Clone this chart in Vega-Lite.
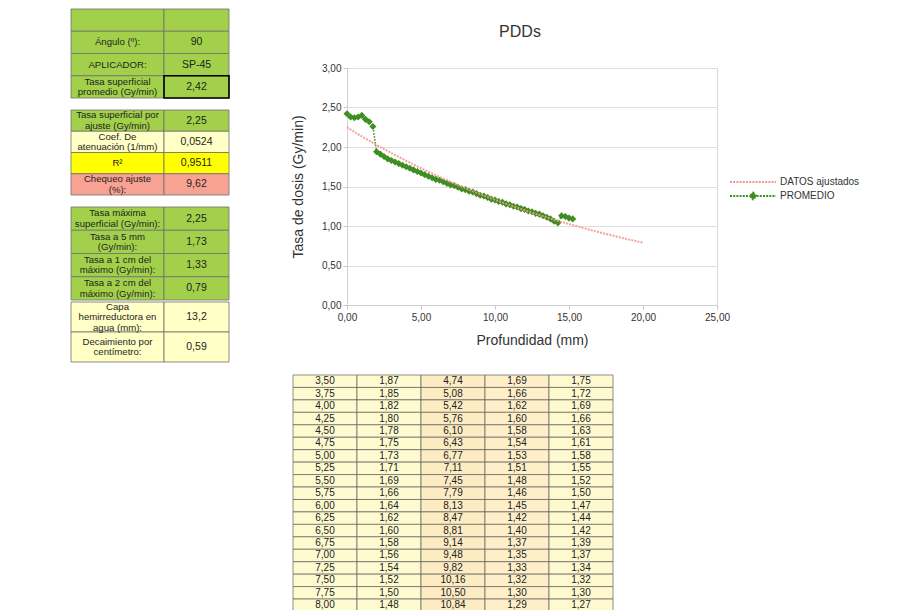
{
  "$schema": "https://vega.github.io/schema/vega-lite/v6.json",
  "background": "white",
  "padding": {"left": 70, "top": 8, "right": 0, "bottom": 0},
  "config": {
    "font": "Liberation Sans",
    "locale": {"number": {"decimal": ",", "thousands": ".", "grouping": [3], "currency": ["", " €"]}},
    "view": {"stroke": null}
  },
  "datasets": {
    "b1": [
      {"n": 1, "etiqueta": "", "valor": "", "estado": "entrada"},
      {"n": 2, "etiqueta": "Ángulo (º):", "valor": "90", "estado": "entrada"},
      {"n": 3, "etiqueta": "APLICADOR:", "valor": "SP-45", "estado": "entrada"},
      {"n": 4, "etiqueta": ["Tasa superficial", "promedio (Gy/min)"], "valor": "2,42", "estado": "entrada"}
    ],
    "b2": [
      {"n": 1, "etiqueta": ["Tasa superficial por", "ajuste (Gy/min)"], "valor": "2,25", "estado": "entrada"},
      {"n": 2, "etiqueta": ["Coef. De", "atenuación (1/mm)"], "valor": "0,0524", "estado": "derivado"},
      {"n": 3, "etiqueta": "R²", "valor": "0,9511", "estado": "r2"},
      {"n": 4, "etiqueta": ["Chequeo ajuste", "(%):"], "valor": "9,62", "estado": "chequeo"}
    ],
    "b3": [
      {"n": 1, "etiqueta": ["Tasa máxima", "superficial (Gy/min):"], "valor": "2,25", "estado": "entrada"},
      {"n": 2, "etiqueta": ["Tasa a 5 mm", "(Gy/min):"], "valor": "1,73", "estado": "entrada"},
      {"n": 3, "etiqueta": ["Tasa a 1 cm del", "máximo (Gy/min):"], "valor": "1,33", "estado": "entrada"},
      {"n": 4, "etiqueta": ["Tasa a 2 cm del", "máximo (Gy/min):"], "valor": "0,79", "estado": "entrada"},
      {"n": 5, "etiqueta": ["Capa", "hemirreductora en", "agua (mm):"], "valor": "13,2", "estado": "derivado"},
      {"n": 6, "etiqueta": ["Decaimiento por", "centímetro:"], "valor": "0,59", "estado": "derivado"}
    ],
    "tabla": [
      {"p": 3.50, "b": 1.87, "c": 4.74, "d": 1.69, "e": 1.75},
      {"p": 3.75, "b": 1.85, "c": 5.08, "d": 1.66, "e": 1.72},
      {"p": 4.00, "b": 1.82, "c": 5.42, "d": 1.62, "e": 1.69},
      {"p": 4.25, "b": 1.80, "c": 5.76, "d": 1.60, "e": 1.66},
      {"p": 4.50, "b": 1.78, "c": 6.10, "d": 1.58, "e": 1.63},
      {"p": 4.75, "b": 1.75, "c": 6.43, "d": 1.54, "e": 1.61},
      {"p": 5.00, "b": 1.73, "c": 6.77, "d": 1.53, "e": 1.58},
      {"p": 5.25, "b": 1.71, "c": 7.11, "d": 1.51, "e": 1.55},
      {"p": 5.50, "b": 1.69, "c": 7.45, "d": 1.48, "e": 1.52},
      {"p": 5.75, "b": 1.66, "c": 7.79, "d": 1.46, "e": 1.50},
      {"p": 6.00, "b": 1.64, "c": 8.13, "d": 1.45, "e": 1.47},
      {"p": 6.25, "b": 1.62, "c": 8.47, "d": 1.42, "e": 1.44},
      {"p": 6.50, "b": 1.60, "c": 8.81, "d": 1.40, "e": 1.42},
      {"p": 6.75, "b": 1.58, "c": 9.14, "d": 1.37, "e": 1.39},
      {"p": 7.00, "b": 1.56, "c": 9.48, "d": 1.35, "e": 1.37},
      {"p": 7.25, "b": 1.54, "c": 9.82, "d": 1.33, "e": 1.34},
      {"p": 7.50, "b": 1.52, "c": 10.16, "d": 1.32, "e": 1.32},
      {"p": 7.75, "b": 1.50, "c": 10.50, "d": 1.30, "e": 1.30},
      {"p": 8.00, "b": 1.48, "c": 10.84, "d": 1.29, "e": 1.27}
    ],
    "ajuste": [
      {"prof": 0, "tasa": 2.25}, {"prof": 0.25, "tasa": 2.221}, {"prof": 0.5, "tasa": 2.192}, {"prof": 0.75, "tasa": 2.163},
      {"prof": 1, "tasa": 2.135}, {"prof": 1.25, "tasa": 2.107}, {"prof": 1.5, "tasa": 2.080}, {"prof": 1.75, "tasa": 2.053},
      {"prof": 2, "tasa": 2.026}, {"prof": 2.25, "tasa": 2.000}, {"prof": 2.5, "tasa": 1.974}, {"prof": 2.75, "tasa": 1.948},
      {"prof": 3, "tasa": 1.923}, {"prof": 3.25, "tasa": 1.898}, {"prof": 3.5, "tasa": 1.873}, {"prof": 3.75, "tasa": 1.849},
      {"prof": 4, "tasa": 1.825}, {"prof": 4.25, "tasa": 1.801}, {"prof": 4.5, "tasa": 1.778}, {"prof": 4.75, "tasa": 1.754},
      {"prof": 5, "tasa": 1.731}, {"prof": 5.25, "tasa": 1.709}, {"prof": 5.5, "tasa": 1.687}, {"prof": 5.75, "tasa": 1.665},
      {"prof": 6, "tasa": 1.643}, {"prof": 6.25, "tasa": 1.622}, {"prof": 6.5, "tasa": 1.601}, {"prof": 6.75, "tasa": 1.580},
      {"prof": 7, "tasa": 1.559}, {"prof": 7.25, "tasa": 1.539}, {"prof": 7.5, "tasa": 1.519}, {"prof": 7.75, "tasa": 1.499},
      {"prof": 8, "tasa": 1.480}, {"prof": 8.25, "tasa": 1.460}, {"prof": 8.5, "tasa": 1.441}, {"prof": 8.75, "tasa": 1.423},
      {"prof": 9, "tasa": 1.404}, {"prof": 9.25, "tasa": 1.386}, {"prof": 9.5, "tasa": 1.368}, {"prof": 9.75, "tasa": 1.350},
      {"prof": 10, "tasa": 1.332}, {"prof": 10.25, "tasa": 1.315}, {"prof": 10.5, "tasa": 1.298}, {"prof": 10.75, "tasa": 1.281},
      {"prof": 11, "tasa": 1.264}, {"prof": 11.25, "tasa": 1.248}, {"prof": 11.5, "tasa": 1.232}, {"prof": 11.75, "tasa": 1.216},
      {"prof": 12, "tasa": 1.200}, {"prof": 12.25, "tasa": 1.184}, {"prof": 12.5, "tasa": 1.169}, {"prof": 12.75, "tasa": 1.154},
      {"prof": 13, "tasa": 1.139}, {"prof": 13.25, "tasa": 1.124}, {"prof": 13.5, "tasa": 1.109}, {"prof": 13.75, "tasa": 1.095},
      {"prof": 14, "tasa": 1.080}, {"prof": 14.25, "tasa": 1.066}, {"prof": 14.5, "tasa": 1.053}, {"prof": 14.75, "tasa": 1.039},
      {"prof": 15, "tasa": 1.025}, {"prof": 15.25, "tasa": 1.012}, {"prof": 15.5, "tasa": 0.999}, {"prof": 15.75, "tasa": 0.986},
      {"prof": 16, "tasa": 0.973}, {"prof": 16.25, "tasa": 0.960}, {"prof": 16.5, "tasa": 0.948}, {"prof": 16.75, "tasa": 0.935},
      {"prof": 17, "tasa": 0.923}, {"prof": 17.25, "tasa": 0.911}, {"prof": 17.5, "tasa": 0.899}, {"prof": 17.75, "tasa": 0.888},
      {"prof": 18, "tasa": 0.876}, {"prof": 18.25, "tasa": 0.865}, {"prof": 18.5, "tasa": 0.853}, {"prof": 18.75, "tasa": 0.842},
      {"prof": 19, "tasa": 0.831}, {"prof": 19.25, "tasa": 0.821}, {"prof": 19.5, "tasa": 0.810}, {"prof": 19.75, "tasa": 0.799},
      {"prof": 20, "tasa": 0.789}
    ],
    "promedio": [
      {"prof": 0, "tasa": 2.42}, {"prof": 0.25, "tasa": 2.38}, {"prof": 0.5, "tasa": 2.37}, {"prof": 0.75, "tasa": 2.38},
      {"prof": 1, "tasa": 2.40}, {"prof": 1.25, "tasa": 2.35}, {"prof": 1.5, "tasa": 2.32}, {"prof": 1.75, "tasa": 2.26},
      {"prof": 2, "tasa": 1.94}, {"prof": 2.25, "tasa": 1.91}, {"prof": 2.5, "tasa": 1.88}, {"prof": 2.75, "tasa": 1.85},
      {"prof": 3, "tasa": 1.83}, {"prof": 3.25, "tasa": 1.81}, {"prof": 3.5, "tasa": 1.79}, {"prof": 3.75, "tasa": 1.77},
      {"prof": 4, "tasa": 1.75}, {"prof": 4.25, "tasa": 1.73}, {"prof": 4.5, "tasa": 1.71}, {"prof": 4.75, "tasa": 1.69},
      {"prof": 5, "tasa": 1.67}, {"prof": 5.25, "tasa": 1.65}, {"prof": 5.5, "tasa": 1.63}, {"prof": 5.75, "tasa": 1.61},
      {"prof": 6, "tasa": 1.59}, {"prof": 6.25, "tasa": 1.58}, {"prof": 6.5, "tasa": 1.56}, {"prof": 6.75, "tasa": 1.54},
      {"prof": 7, "tasa": 1.52}, {"prof": 7.25, "tasa": 1.51}, {"prof": 7.5, "tasa": 1.49}, {"prof": 7.75, "tasa": 1.47},
      {"prof": 8, "tasa": 1.46}, {"prof": 8.25, "tasa": 1.44}, {"prof": 8.5, "tasa": 1.43}, {"prof": 8.75, "tasa": 1.41},
      {"prof": 9, "tasa": 1.39}, {"prof": 9.25, "tasa": 1.38}, {"prof": 9.5, "tasa": 1.36}, {"prof": 9.75, "tasa": 1.34},
      {"prof": 10, "tasa": 1.33}, {"prof": 10.25, "tasa": 1.31}, {"prof": 10.5, "tasa": 1.30}, {"prof": 10.75, "tasa": 1.28},
      {"prof": 11, "tasa": 1.27}, {"prof": 11.25, "tasa": 1.25}, {"prof": 11.5, "tasa": 1.24}, {"prof": 11.75, "tasa": 1.22},
      {"prof": 12, "tasa": 1.21}, {"prof": 12.25, "tasa": 1.19}, {"prof": 12.5, "tasa": 1.18}, {"prof": 12.75, "tasa": 1.16},
      {"prof": 13, "tasa": 1.15}, {"prof": 13.25, "tasa": 1.13}, {"prof": 13.5, "tasa": 1.11}, {"prof": 13.75, "tasa": 1.09},
      {"prof": 14, "tasa": 1.06}, {"prof": 14.25, "tasa": 1.04}, {"prof": 14.5, "tasa": 1.13}, {"prof": 14.75, "tasa": 1.12},
      {"prof": 15, "tasa": 1.10}, {"prof": 15.25, "tasa": 1.09}
    ]
  },
  "spacing": 11,
  "resolve": {"scale": {"fill": "independent", "color": "independent"}},
  "vconcat": [
    {
      "spacing": 61,
      "resolve": {"scale": {"fill": "independent", "color": "independent"}},
      "hconcat": [
        {
          "spacing": 10,
          "vconcat": [
            {
              "spacing": 0,
              "bounds": "flush",
              "hconcat": [
                {
                  "width": 93, "height": 89, "data": {"name": "b1"},
                  "layer": [
                    {"mark": {"type": "rect", "stroke": "#707070", "strokeWidth": 0.8},
                     "encoding": {"y": {"field": "n", "type": "ordinal", "axis": null, "scale": {"paddingInner": 0, "paddingOuter": 0}},
                                  "fill": {"field": "estado", "type": "nominal", "legend": null, "scale": {"domain": ["entrada", "derivado", "r2", "chequeo"], "range": ["#a2d04b", "#ffffc6", "#ffff00", "#f8a293"]}}}},
                    {"transform": [{"filter": "!isArray(datum.etiqueta)"}],
                     "mark": {"type": "text", "fontSize": 9.6, "color": "#1e1e1e"},
                     "encoding": {"y": {"field": "n", "type": "ordinal", "axis": null}, "text": {"field": "etiqueta"}}},
                    {"transform": [{"filter": "isArray(datum.etiqueta) && length(datum.etiqueta) == 2"}],
                     "mark": {"type": "text", "fontSize": 9.6, "lineHeight": 10.5, "dy": -5.25, "color": "#1e1e1e"},
                     "encoding": {"y": {"field": "n", "type": "ordinal", "axis": null}, "text": {"field": "etiqueta"}}}
                  ]
                },
                {
                  "width": 65, "height": 89, "data": {"name": "b1"},
                  "layer": [
                    {"mark": {"type": "rect", "stroke": "#707070", "strokeWidth": 0.8},
                     "encoding": {"y": {"field": "n", "type": "ordinal", "axis": null, "scale": {"paddingInner": 0, "paddingOuter": 0}},
                                  "fill": {"field": "estado", "type": "nominal", "legend": null, "scale": {"domain": ["entrada", "derivado", "r2", "chequeo"], "range": ["#a2d04b", "#ffffc6", "#ffff00", "#f8a293"]}}}},
                    {"transform": [{"filter": "datum.n == 4"}],
                     "mark": {"type": "rect", "fill": "transparent", "stroke": "#000000", "strokeWidth": 1.6},
                     "encoding": {"y": {"field": "n", "type": "ordinal", "axis": null}}},
                    {"mark": {"type": "text", "fontSize": 10.5, "color": "#1e1e1e"},
                     "encoding": {"y": {"field": "n", "type": "ordinal", "axis": null}, "text": {"field": "valor"}}}
                  ]
                }
              ]
            },
            {
              "spacing": 0,
              "bounds": "flush",
              "hconcat": [
                {
                  "width": 93, "height": 85, "data": {"name": "b2"},
                  "layer": [
                    {"mark": {"type": "rect", "stroke": "#707070", "strokeWidth": 0.8},
                     "encoding": {"y": {"field": "n", "type": "ordinal", "axis": null, "scale": {"paddingInner": 0, "paddingOuter": 0}},
                                  "fill": {"field": "estado", "type": "nominal", "legend": null, "scale": {"domain": ["entrada", "derivado", "r2", "chequeo"], "range": ["#a2d04b", "#ffffc6", "#ffff00", "#f8a293"]}}}},
                    {"transform": [{"filter": "!isArray(datum.etiqueta)"}],
                     "mark": {"type": "text", "fontSize": 9.6, "color": "#1e1e1e"},
                     "encoding": {"y": {"field": "n", "type": "ordinal", "axis": null}, "text": {"field": "etiqueta"}}},
                    {"transform": [{"filter": "isArray(datum.etiqueta) && length(datum.etiqueta) == 2"}],
                     "mark": {"type": "text", "fontSize": 9.6, "lineHeight": 10.5, "dy": -5.25, "color": "#1e1e1e"},
                     "encoding": {"y": {"field": "n", "type": "ordinal", "axis": null}, "text": {"field": "etiqueta"}}}
                  ]
                },
                {
                  "width": 65, "height": 85, "data": {"name": "b2"},
                  "layer": [
                    {"mark": {"type": "rect", "stroke": "#707070", "strokeWidth": 0.8},
                     "encoding": {"y": {"field": "n", "type": "ordinal", "axis": null, "scale": {"paddingInner": 0, "paddingOuter": 0}},
                                  "fill": {"field": "estado", "type": "nominal", "legend": null, "scale": {"domain": ["entrada", "derivado", "r2", "chequeo"], "range": ["#a2d04b", "#ffffc6", "#ffff00", "#f8a293"]}}}},
                    {"mark": {"type": "text", "fontSize": 10.5, "color": "#1e1e1e"},
                     "encoding": {"y": {"field": "n", "type": "ordinal", "axis": null}, "text": {"field": "valor"}}}
                  ]
                }
              ]
            },
            {
              "spacing": 0,
              "vconcat": [
                {
                  "spacing": 0,
                  "bounds": "flush",
                  "hconcat": [
                    {
                      "width": 93, "height": 93, "data": {"name": "b3"},
                      "transform": [{"filter": "datum.n <= 4"}],
                      "layer": [
                        {"mark": {"type": "rect", "stroke": "#707070", "strokeWidth": 0.8},
                         "encoding": {"y": {"field": "n", "type": "ordinal", "axis": null, "scale": {"paddingInner": 0, "paddingOuter": 0}},
                                      "fill": {"field": "estado", "type": "nominal", "legend": null, "scale": {"domain": ["entrada", "derivado", "r2", "chequeo"], "range": ["#a2d04b", "#ffffc6", "#ffff00", "#f8a293"]}}}},
                        {"mark": {"type": "text", "fontSize": 9.6, "lineHeight": 10.5, "dy": -5.25, "color": "#1e1e1e"},
                         "encoding": {"y": {"field": "n", "type": "ordinal", "axis": null}, "text": {"field": "etiqueta"}}}
                      ]
                    },
                    {
                      "width": 65, "height": 93, "data": {"name": "b3"},
                      "transform": [{"filter": "datum.n <= 4"}],
                      "layer": [
                        {"mark": {"type": "rect", "stroke": "#707070", "strokeWidth": 0.8},
                         "encoding": {"y": {"field": "n", "type": "ordinal", "axis": null, "scale": {"paddingInner": 0, "paddingOuter": 0}},
                                      "fill": {"field": "estado", "type": "nominal", "legend": null, "scale": {"domain": ["entrada", "derivado", "r2", "chequeo"], "range": ["#a2d04b", "#ffffc6", "#ffff00", "#f8a293"]}}}},
                        {"mark": {"type": "text", "fontSize": 10.5, "color": "#1e1e1e"},
                         "encoding": {"y": {"field": "n", "type": "ordinal", "axis": null}, "text": {"field": "valor"}}}
                      ]
                    }
                  ]
                },
                {
                  "spacing": 0,
                  "bounds": "flush",
                  "hconcat": [
                    {
                      "width": 93, "height": 60, "data": {"name": "b3"},
                      "transform": [{"filter": "datum.n > 4"}],
                      "layer": [
                        {"mark": {"type": "rect", "stroke": "#707070", "strokeWidth": 0.8},
                         "encoding": {"y": {"field": "n", "type": "ordinal", "axis": null, "scale": {"paddingInner": 0, "paddingOuter": 0}},
                                      "fill": {"field": "estado", "type": "nominal", "legend": null, "scale": {"domain": ["entrada", "derivado", "r2", "chequeo"], "range": ["#a2d04b", "#ffffc6", "#ffff00", "#f8a293"]}}}},
                        {"transform": [{"filter": "length(datum.etiqueta) == 2"}],
                         "mark": {"type": "text", "fontSize": 9.6, "lineHeight": 10.5, "dy": -5.25, "color": "#1e1e1e"},
                         "encoding": {"y": {"field": "n", "type": "ordinal", "axis": null}, "text": {"field": "etiqueta"}}},
                        {"transform": [{"filter": "length(datum.etiqueta) == 3"}],
                         "mark": {"type": "text", "fontSize": 9.6, "lineHeight": 10.5, "dy": -10.5, "color": "#1e1e1e"},
                         "encoding": {"y": {"field": "n", "type": "ordinal", "axis": null}, "text": {"field": "etiqueta"}}}
                      ]
                    },
                    {
                      "width": 65, "height": 60, "data": {"name": "b3"},
                      "transform": [{"filter": "datum.n > 4"}],
                      "layer": [
                        {"mark": {"type": "rect", "stroke": "#707070", "strokeWidth": 0.8},
                         "encoding": {"y": {"field": "n", "type": "ordinal", "axis": null, "scale": {"paddingInner": 0, "paddingOuter": 0}},
                                      "fill": {"field": "estado", "type": "nominal", "legend": null, "scale": {"domain": ["entrada", "derivado", "r2", "chequeo"], "range": ["#a2d04b", "#ffffc6", "#ffff00", "#f8a293"]}}}},
                        {"mark": {"type": "text", "fontSize": 10.5, "color": "#1e1e1e"},
                         "encoding": {"y": {"field": "n", "type": "ordinal", "axis": null}, "text": {"field": "valor"}}}
                      ]
                    }
                  ]
                }
              ]
            }
          ]
        },
        {
          "spacing": 13,
          "vconcat": [
            {"width": 1, "height": 1, "data": {"values": []}, "mark": "point"},
            {
              "width": 370, "height": 237,
              "view": {"stroke": "#d9d9d9"},
              "title": {"text": "PDDs", "fontSize": 16, "offset": 23, "dx": -12, "fontWeight": "normal", "color": "#333333", "anchor": "middle"},
              "layer": [
                {
                  "data": {"name": "promedio"},
                  "mark": {"type": "line", "strokeDash": [1.5, 1.5], "strokeWidth": 1.5},
                  "encoding": {
                    "x": {"field": "prof", "type": "quantitative", "title": "Profundidad (mm)",
                          "scale": {"domain": [0, 25], "nice": false},
                          "axis": {"tickCount": 5, "format": ".2f", "grid": false, "labelFlush": false, "domainColor": "#d0d0d0", "tickColor": "#c8c8c8", "tickSize": 4, "labelFontSize": 10, "labelColor": "#333333", "labelPadding": 3, "titleFontSize": 14, "titleFontWeight": "normal", "titleColor": "#333333", "titlePadding": 11}},
                    "y": {"field": "tasa", "type": "quantitative", "title": "Tasa de dosis (Gy/min)",
                          "scale": {"domain": [0, 3], "nice": false},
                          "axis": {"tickCount": 6, "format": ".2f", "grid": true, "labelFlush": false, "gridColor": "#dedede", "domainColor": "#d0d0d0", "tickColor": "#c8c8c8", "tickSize": 4, "labelFontSize": 10, "labelColor": "#333333", "labelPadding": 2, "labelOverlap": false, "titleFontSize": 14, "titleFontWeight": "normal", "titleColor": "#333333", "titlePadding": 16}},
                    "color": {"datum": "PROMEDIO", "type": "nominal",
                              "scale": {"domain": ["DATOS ajustados", "PROMEDIO"], "range": ["#f4978e", "#3e8e21"]},
                              "legend": {"title": null, "orient": "none", "legendX": 382, "legendY": 165, "labelFontSize": 10, "labelColor": "#333333", "labelOffset": 35, "symbolSize": 196, "symbolStrokeWidth": 1.8, "symbolDash": [2, 1.2], "rowPadding": 1,
                                         "encode": {"symbols": {"update": {
                                            "shape": {"signal": "datum.value === 'PROMEDIO' ? 'M-1,0L1.79,0M2.79,0L5.57,0M2.29,-0.5L2.79,0L2.29,0.5L1.79,0Z' : 'M-1,0L5.57,0'"},
                                            "fill": {"signal": "datum.value === 'PROMEDIO' ? '#3e8e21' : 'transparent'"}}}}}}
                  }
                },
                {
                  "data": {"name": "promedio"},
                  "mark": {"type": "point", "shape": "diamond", "filled": true, "size": 50, "color": "#3e8e21", "opacity": 1},
                  "encoding": {
                    "x": {"field": "prof", "type": "quantitative"},
                    "y": {"field": "tasa", "type": "quantitative"}
                  }
                },
                {
                  "data": {"name": "ajuste"},
                  "mark": {"type": "line", "strokeDash": [2, 1.2], "strokeWidth": 2, "opacity": 0.9},
                  "encoding": {
                    "x": {"field": "prof", "type": "quantitative"},
                    "y": {"field": "tasa", "type": "quantitative"},
                    "color": {"datum": "DATOS ajustados", "type": "nominal"}
                  }
                }
              ]
            }
          ]
        }
      ]
    },
    {
      "spacing": 220,
      "hconcat": [
        {"width": 1, "height": 1, "data": {"values": []}, "mark": "point"},
        {
          "width": 320, "height": 236.5,
          "data": {"name": "tabla"},
          "transform": [{"fold": ["p", "b", "c", "d", "e"], "as": ["col", "valor"]}],
          "layer": [
            {"mark": {"type": "rect", "stroke": "#5e5e5e", "strokeWidth": 0.7},
             "encoding": {
               "x": {"field": "col", "type": "nominal", "sort": ["p", "b", "c", "d", "e"], "axis": null, "scale": {"paddingInner": 0, "paddingOuter": 0}},
               "y": {"field": "p", "type": "ordinal", "axis": null, "scale": {"paddingInner": 0, "paddingOuter": 0}},
               "fill": {"field": "col", "type": "nominal", "legend": null, "scale": {"domain": ["p", "b", "c", "d", "e"], "range": ["#fffbd0", "#fffbd0", "#fdebc2", "#feefc8", "#fff9cf"]}}}},
            {"mark": {"type": "text", "fontSize": 10, "color": "#222222"},
             "encoding": {
               "x": {"field": "col", "type": "nominal", "sort": ["p", "b", "c", "d", "e"], "axis": null},
               "y": {"field": "p", "type": "ordinal", "axis": null},
               "text": {"field": "valor", "type": "quantitative", "format": ".2f"}}}
          ]
        }
      ]
    }
  ]
}
